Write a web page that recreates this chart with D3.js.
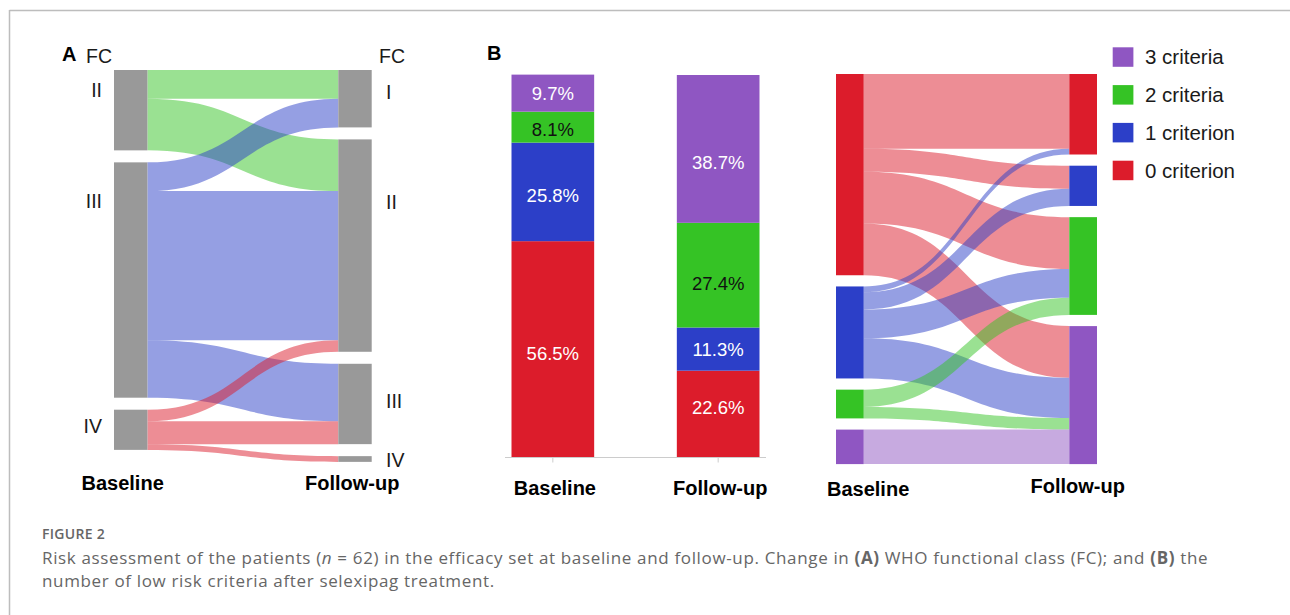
<!DOCTYPE html>
<html>
<head>
<meta charset="utf-8">
<script src="https://cdn.jsdelivr.net/npm/d3@7"></script>
<style>
  body { margin: 0; background: #fff; }
  svg { display: block; }
  text { font-family: "Liberation Sans", Arial, sans-serif; }
  .caption { font-family: "Open Sans", sans-serif; fill: #666; }
</style>
</head>
<body>
<svg id="chart" width="1290" height="615"></svg>
<script>
// panel A - WHO functional class, number of patients
const fcBaseline = ['II', 'III', 'IV'];
const fcFollowUp = ['I', 'II', 'III', 'IV'];
const fcFlows = [
    ['II', 'I', 5], ['II', 'II', 9],
    ['III', 'I', 5], ['III', 'II', 26], ['III', 'III', 10],
    ['IV', 'II', 2], ['IV', 'III', 4], ['IV', 'IV', 1]
];

// panel B - number of low risk criteria
const timepoints = ['Baseline', 'Follow-up'];
const criteria = ['0 criterion', '1 criterion', '2 criteria', '3 criteria'];
const baselinePct = [56.5, 25.8, 8.1, 9.7];
const followUpPct = [22.6, 11.3, 27.4, 38.7];
const criteriaFlows = [
    ['0 criterion', '0 criterion', 13], ['0 criterion', '1 criterion', 4],
    ['0 criterion', '2 criteria', 9], ['0 criterion', '3 criteria', 9],
    ['1 criterion', '0 criterion', 1], ['1 criterion', '1 criterion', 3],
    ['1 criterion', '2 criteria', 5], ['1 criterion', '3 criteria', 7],
    ['2 criteria', '2 criteria', 3], ['2 criteria', '3 criteria', 2],
    ['3 criteria', '3 criteria', 6]
];

const color = d3.scaleOrdinal()
    .domain(criteria)
    .range(['#dc1c2b', '#2c3fc8', '#35c325', '#8f56c2']);
const fcColor = d3.scaleOrdinal()
    .domain(fcBaseline)
    .range(['#35c325', '#2c3fc8', '#dc1c2b']);

const svg = d3.select('#chart');

// figure frame
svg.append('line').attr('x1', 9.5).attr('y1', 10.5).attr('x2', 1290).attr('y2', 10.5)
    .attr('stroke', '#bdbdbd').attr('stroke-width', 1.5);
svg.append('line').attr('x1', 9.5).attr('y1', 10).attr('x2', 9.5).attr('y2', 615)
    .attr('stroke', '#bdbdbd').attr('stroke-width', 1.5);

// simple two column sankey (filled bands, constant vertical thickness)
function sankey(g, o) {
    const h = d3.scaleLinear().domain([0, 1]).range([0, o.k]);
    const column = (names, side) => {
        const m = new Map();
        let cur = o.top;
        names.forEach(n => {
            const v = d3.sum(o.flows.filter(f => f[side] === n), f => f[2]);
            m.set(n, { name: n, y0: cur, y1: cur + h(v), off: cur });
            cur += h(v) + o.gap;
        });
        return m;
    };
    const left = column(o.left, 0);
    const right = column(o.right, 1);
    const xa = o.x0 + o.nodeW, xb = o.x1, xm = (xa + xb) / 2;

    o.flows.forEach(f => {
        const s = left.get(f[0]), t = right.get(f[1]);
        const w = h(f[2]);
        const sy0 = s.off, sy1 = s.off + w, ty0 = t.off, ty1 = t.off + w;
        s.off += w;
        t.off += w;
        const p = d3.path();
        p.moveTo(xa, sy0);
        p.bezierCurveTo(xm, sy0, xm, ty0, xb, ty0);
        p.lineTo(xb, ty1);
        p.bezierCurveTo(xm, ty1, xm, sy1, xa, sy1);
        p.closePath();
        g.append('path')
            .attr('d', p.toString())
            .attr('fill', o.linkColor(f[0]))
            .attr('fill-opacity', 0.5);
    });

    g.selectAll('.nl').data([...left.values()]).enter().append('rect')
        .attr('x', o.x0).attr('width', o.nodeW)
        .attr('y', d => d.y0).attr('height', d => d.y1 - d.y0)
        .attr('fill', d => o.nodeColor(d.name));
    g.selectAll('.nr').data([...right.values()]).enter().append('rect')
        .attr('x', o.x1).attr('width', o.nodeW)
        .attr('y', d => d.y0).attr('height', d => d.y1 - d.y0)
        .attr('fill', d => o.nodeColor(d.name));
    return { left, right };
}

// ---------- panel A ----------
const gA = svg.append('g');
const fc = sankey(gA, {
    left: fcBaseline, right: fcFollowUp, flows: fcFlows,
    x0: 114, x1: 338.3, nodeW: 33.4, top: 70, gap: 12, k: 5.74,
    nodeColor: () => '#999999', linkColor: s => fcColor(s)
});

// label placement next to the nodes (offset from node top)
const fcLabelDyLeft = { 'II': 20, 'III': 39, 'IV': 16 };
const fcLabelDyRight = { 'I': 22, 'II': 63, 'III': 37, 'IV': 4 };
gA.selectAll('.ll').data(fcBaseline).enter().append('text')
    .attr('x', 102).attr('y', d => fc.left.get(d).y0 + fcLabelDyLeft[d])
    .attr('dy', '0.35em').attr('text-anchor', 'end')
    .attr('font-size', 19.5).attr('fill', '#1a1a1a').text(d => d);
gA.selectAll('.lr').data(fcFollowUp).enter().append('text')
    .attr('x', 386).attr('y', d => fc.right.get(d).y0 + fcLabelDyRight[d])
    .attr('dy', '0.35em').attr('text-anchor', 'start')
    .attr('font-size', 19.5).attr('fill', '#1a1a1a').text(d => d);

gA.append('text').attr('x', 62).attr('y', 61).attr('font-size', 20).attr('font-weight', 'bold').text('A');
gA.append('text').attr('x', 86).attr('y', 63).attr('font-size', 19.5).attr('fill', '#1a1a1a').text('FC');
gA.append('text').attr('x', 379).attr('y', 63).attr('font-size', 19.5).attr('fill', '#1a1a1a').text('FC');
gA.append('text').attr('x', 81.5).attr('y', 490).attr('font-size', 20).attr('font-weight', 'bold').text('Baseline');
gA.append('text').attr('x', 305).attr('y', 490).attr('font-size', 20).attr('font-weight', 'bold').text('Follow-up');

// ---------- panel B: stacked bars ----------
const gB = svg.append('g');
const rows = timepoints.map((t, i) => {
    const vals = i === 0 ? baselinePct : followUpPct;
    const r = { time: t };
    criteria.forEach((c, j) => { r[c] = vals[j]; });
    return r;
});
const series = d3.stack().keys(criteria)(rows);

const x = d3.scaleBand().domain(timepoints).range([511.5, 759.5]).paddingInner(0.5);
const y = d3.scaleLinear().domain([0, 100]).range([457, 75]);

gB.selectAll('g.series').data(series).enter().append('g')
    .attr('fill', d => color(d.key))
    .selectAll('rect').data(d => d).enter().append('rect')
    .attr('x', d => x(d.data.time))
    .attr('width', x.bandwidth())
    .attr('y', d => y(d[1]))
    .attr('height', d => y(d[0]) - y(d[1]));

// the percentages are not quite centred in the original
const labelNudge = { 'Follow-up|3 criteria': 14, 'Follow-up|2 criteria': 8, 'Follow-up|0 criterion': -6, 'Baseline|1 criterion': 4, 'Baseline|0 criterion': 4, 'Baseline|2 criteria': 2 };
series.forEach(s => {
    s.forEach(d => {
        const key = d.data.time + '|' + s.key;
        gB.append('text')
            .attr('x', x(d.data.time) + x.bandwidth() / 2)
            .attr('y', (y(d[0]) + y(d[1])) / 2 + (labelNudge[key] || 0))
            .attr('dy', '0.35em')
            .attr('text-anchor', 'middle')
            .attr('font-size', 18.5)
            .attr('fill', s.key === '2 criteria' ? '#111' : '#fff')
            .text(d3.format('.1f')(d.data[s.key]) + '%');
    });
});

const xAxis = d3.axisBottom(x).tickSize(5).tickPadding(18).tickSizeOuter(0);
const xAxisG = gB.append('g').attr('transform', 'translate(0,457.5)').call(xAxis);
xAxisG.select('.domain').remove();
xAxisG.append('line').attr('x1', 505).attr('x2', 766).attr('stroke', '#cccccc');
xAxisG.selectAll('.tick line').attr('stroke', '#cccccc');
xAxisG.selectAll('.tick text')
    .attr('font-size', 20).attr('font-weight', 'bold').attr('fill', '#000')
    .attr('font-family', '"Liberation Sans", Arial, sans-serif')
    .attr('dx', 2);

gB.append('text').attr('x', 487).attr('y', 60).attr('font-size', 20).attr('font-weight', 'bold').text('B');

// ---------- panel B: criteria sankey ----------
const gC = svg.append('g');
sankey(gC, {
    left: criteria, right: criteria, flows: criteriaFlows,
    x0: 836, x1: 1069.3, nodeW: 27.7, top: 74, gap: 11.2, k: 5.75,
    nodeColor: n => color(n), linkColor: s => color(s)
});
gC.append('text').attr('x', 827).attr('y', 496).attr('font-size', 20).attr('font-weight', 'bold').text('Baseline');
gC.append('text').attr('x', 1030.5).attr('y', 493).attr('font-size', 20).attr('font-weight', 'bold').text('Follow-up');

// legend
const legendItems = criteria.slice().reverse();
const lg = gC.selectAll('.leg').data(legendItems).enter().append('g')
    .attr('transform', (d, i) => `translate(1112.7,${47.3 + i * 37.8})`);
lg.append('rect').attr('width', 20.7).attr('height', 19.5).attr('fill', d => color(d));
lg.append('text').attr('x', 32.3).attr('y', 9.8).attr('dy', '0.35em')
    .attr('font-size', 20.5).attr('fill', '#1a1a1a').text(d => d);

// ---------- caption ----------
svg.append('text').attr('class', 'caption').attr('x', 42).attr('y', 539)
    .attr('font-size', 14).attr('font-weight', 600).attr('letter-spacing', 0.3).text('FIGURE 2');
const cap1 = svg.append('text').attr('class', 'caption').attr('x', 42).attr('y', 564)
    .attr('font-size', 17).attr('letter-spacing', 0.65);
cap1.append('tspan').text('Risk assessment of the patients (');
cap1.append('tspan').attr('font-style', 'italic').text('n');
cap1.append('tspan').text(' = 62) in the efficacy set at baseline and follow-up. Change in ');
cap1.append('tspan').attr('font-weight', 'bold').text('(A)');
cap1.append('tspan').text(' WHO functional class (FC); and ');
cap1.append('tspan').attr('font-weight', 'bold').text('(B)');
cap1.append('tspan').text(' the');
svg.append('text').attr('class', 'caption').attr('x', 42).attr('y', 587)
    .attr('font-size', 17).attr('letter-spacing', 0.65)
    .text('number of low risk criteria after selexipag treatment.');
</script>
</body>
</html>
